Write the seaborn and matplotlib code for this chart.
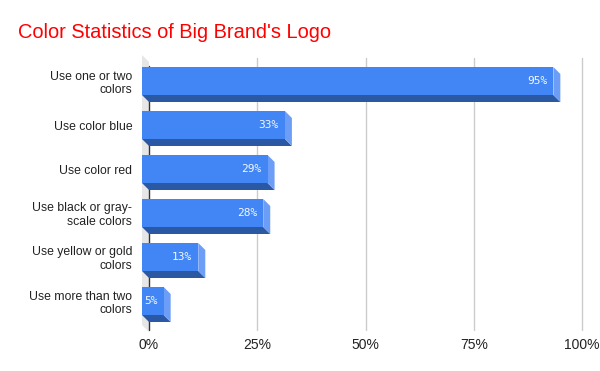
import matplotlib
matplotlib.use("Agg")
import matplotlib.pyplot as plt
import seaborn as sns
import pandas as pd
from matplotlib.transforms import ScaledTranslation, IdentityTransform
from matplotlib.patches import Polygon

categories = ["Use one or two\ncolors", "Use color blue", "Use color red",
              "Use black or gray-\nscale colors", "Use yellow or gold\ncolors",
              "Use more than two\ncolors"]
values = [95, 33, 29, 28, 13, 5]
xticks = [0, 25, 50, 75, 100]
xticklabels = ["0%", "25%", "50%", "75%", "100%"]

sns.set_theme(style="white")
plt.rcParams['font.family'] = ['Liberation Sans', 'DejaVu Sans']

fig = plt.figure(figsize=(6, 3.71), dpi=100)
ax = fig.add_axes([149/600, 41/371, 433/600, 264/371])

df = pd.DataFrame({"cat": categories, "val": values})
sns.barplot(data=df, x="val", y="cat", orient="h", color="#4285F4",
            saturation=1, width=28/44, ax=ax, zorder=3)
ax.set_xlim(0, 100)
ax.set_ylim(5.5, -0.5)

dx, dy = -7/100, 7/100
off = ScaledTranslation(dx, dy, fig.dpi_scale_trans)
front_tr = ax.transData + off
ident = IdentityTransform()

def add_poly(pts, color, z):
    poly = Polygon(pts, closed=True, transform=ident, facecolor=color,
                   edgecolor="none", zorder=z, clip_on=False)
    ax.add_artist(poly)

for p in list(ax.patches):
    p.set_transform(front_tr)
    p.set_clip_on(False)
    p.set_edgecolor("none")
    x0, y0 = p.get_x(), p.get_y()
    w, h = p.get_width(), p.get_height()
    yb = y0 + h
    fb_l = front_tr.transform((x0, yb))
    fb_r = front_tr.transform((x0 + w, yb))
    bb_l = ax.transData.transform((x0, yb))
    bb_r = ax.transData.transform((x0 + w, yb))
    add_poly([fb_l, fb_r, bb_r, bb_l], "#2B58A3", 2.9)
    ft_r = front_tr.transform((x0 + w, y0))
    bt_r = ax.transData.transform((x0 + w, y0))
    add_poly([ft_r, bt_r, bb_r, fb_r], "#6C9DF7", 2.9)
    ax.text(x0 + w, y0 + h/2, f"{int(round(w))}%",
            transform=front_tr + ScaledTranslation(-6/100, 0, fig.dpi_scale_trans),
            ha="right", va="center", color="#F4F8FF", clip_on=False,
            fontsize=8, family="DejaVu Sans Mono", zorder=5)

# left wall
yt, ybot = -0.5 - 4/44, 5.5 + 2/44
wall_back_t = ax.transData.transform((0, yt))
wall_back_b = ax.transData.transform((0, ybot))
wall_front_t = front_tr.transform((0, yt))
wall_front_b = front_tr.transform((0, ybot))
add_poly([wall_front_t, wall_back_t, wall_back_b, wall_front_b], "#E6E6E6", 0.5)

for t in xticks[1:]:
    ax.axvline(t, ymin=-0.0, ymax=1.03, color="#CCCCCC", lw=1, zorder=1, clip_on=False)
ax.axvline(0, ymin=-0.0, ymax=1.0, color="#333333", lw=1, zorder=2, clip_on=False)

for s in ax.spines.values():
    s.set_visible(False)
ax.set_xticks(xticks)
ax.set_xticklabels(xticklabels, fontsize=10, color="#222222")
ax.tick_params(axis="x", length=0, pad=6)
ax.tick_params(axis="y", length=0, pad=12)
ax.set_yticks(range(len(categories)))
ax.set_yticklabels(categories, fontsize=8.8, color="#222222")
for lab in ax.get_yticklabels():
    lab.set_transform(lab.get_transform() + ScaledTranslation(0, 7/100, fig.dpi_scale_trans))
    lab.set_ha("right")
    lab.set_multialignment("right")
ax.set_xlabel("")
ax.set_ylabel("")

fig.text(18/600, 1 - 32/371, "Color Statistics of Big Brand's Logo", color="#FF0000",
         fontsize=14.4, ha="left", va="center")

fig.savefig("out.png", dpi=100)
